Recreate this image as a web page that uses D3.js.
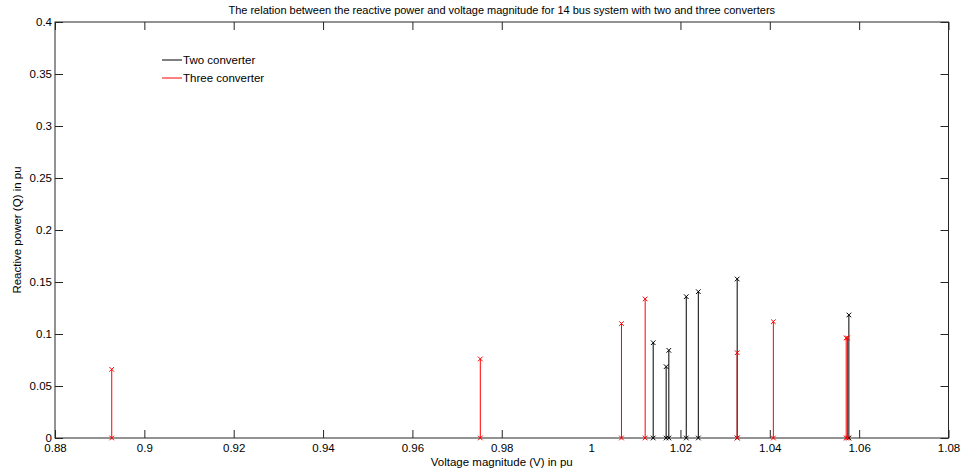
<!DOCTYPE html>
<html>
<head>
<meta charset="utf-8">
<script src="https://cdn.jsdelivr.net/npm/d3@7"></script>
<style>
  html, body { margin: 0; padding: 0; background: #fff; }
  svg { display: block; font-family: "Liberation Sans", Arial, sans-serif; }
</style>
</head>
<body>
<svg id="chart" width="962" height="473"></svg>
<script>
// ---- data ----
const title = "The relation between the reactive power and voltage magnitude for 14 bus system with two and three converters";
const xLabel = "Voltage magnitude (V) in pu";
const yLabel = "Reactive power (Q) in pu";
const seriesNames = ["Two converter", "Three converter"];
const seriesColors = ["#000000", "#ff0000"];

// Two converter: voltage (pu) and reactive power (pu)
const twoV = [1.0139, 1.0168, 1.0174, 1.0213, 1.0240, 1.0327, 1.0577];
const twoQ = [0.0916, 0.0686, 0.0843, 0.1359, 0.1407, 0.1529, 0.1183];
// Three converter
const threeV = [0.8927, 0.9752, 1.0068, 1.0121, 1.0327, 1.0408, 1.0571, 1.0574];
const threeQ = [0.0660, 0.0760, 0.1100, 0.1337, 0.0820, 0.1118, 0.0962, 0.0962];

const xTicks = [0.88, 0.9, 0.92, 0.94, 0.96, 0.98, 1, 1.02, 1.04, 1.06, 1.08];
const xTickLabels = ["0.88", "0.9", "0.92", "0.94", "0.96", "0.98", "1", "1.02", "1.04", "1.06", "1.08"];
const yTicks = [0, 0.05, 0.1, 0.15, 0.2, 0.25, 0.3, 0.35, 0.4];
const yTickLabels = ["0", "0.05", "0.1", "0.15", "0.2", "0.25", "0.3", "0.35", "0.4"];
const xHiddenTickMark = [1]; // no tick mark drawn at 1.0 in the reference

// ---- layout ----
const L = 55, R = 948.5, T = 22, B = 438;
const svg = d3.select("#chart");
const x = d3.scaleLinear().domain([0.88, 1.08]).range([L, R]);
const y = d3.scaleLinear().domain([0, 0.4]).range([B, T]);
const axisColor = "#262626";
const tickLen = 8;

// frame
svg.append("rect").attr("x", L).attr("y", T).attr("width", R - L).attr("height", B - T)
  .attr("fill", "#fff").attr("stroke", axisColor).attr("stroke-width", 1);

// axes via d3 axis generators, ticks inward
const xAxisB = d3.axisBottom(x).tickValues(xTicks).tickSize(-tickLen).tickPadding(tickLen + 5)
  .tickFormat((d, i) => xTickLabels[i]);
const gxb = svg.append("g").attr("transform", `translate(0,${B})`).call(xAxisB);
const xAxisT = d3.axisTop(x).tickValues(xTicks).tickSize(-tickLen).tickFormat("");
const gxt = svg.append("g").attr("transform", `translate(0,${T})`).call(xAxisT);
const yAxisL = d3.axisLeft(y).tickValues(yTicks).tickSize(-tickLen).tickPadding(3)
  .tickFormat((d, i) => yTickLabels[i]);
const gyl = svg.append("g").attr("transform", `translate(${L},0)`).call(yAxisL);
const yAxisR = d3.axisRight(y).tickValues(yTicks).tickSize(-tickLen).tickFormat("");
const gyr = svg.append("g").attr("transform", `translate(${R},0)`).call(yAxisR);

[gxb, gxt, gyl, gyr].forEach(g => {
  g.select(".domain").remove();
  g.selectAll(".tick line").attr("stroke", axisColor);
  g.selectAll(".tick text").attr("fill", "#000").style("font-size", "11.5px")
    .style("font-family", "'Liberation Sans', Arial, sans-serif");
});
[gxb, gxt].forEach(g => g.selectAll(".tick").filter(d => xHiddenTickMark.includes(d))
  .select("line").attr("stroke-opacity", 0));
gxb.selectAll(".tick text").attr("dy", "0.35em").attr("y", 10);
gyl.selectAll(".tick text").attr("x", -3);

// stems
function drawStems(vs, qs, color) {
  const g = svg.append("g");
  const data = vs.map((v, i) => ({ v, q: qs[i] }));
  g.selectAll("line.stem").data(data).enter().append("line")
    .attr("x1", d => x(d.v)).attr("x2", d => x(d.v))
    .attr("y1", y(0)).attr("y2", d => y(d.q))
    .attr("stroke", color).attr("stroke-width", 1);
  const s = 2.3;
  const pts = [];
  data.forEach(d => { pts.push({ v: d.v, q: 0 }); pts.push({ v: d.v, q: d.q }); });
  g.selectAll("path.mk").data(pts).enter().append("path")
    .attr("d", d => {
      const cx = x(d.v), cy = y(d.q);
      return `M${cx - s},${cy - s}L${cx + s},${cy + s}M${cx - s},${cy + s}L${cx + s},${cy - s}`;
    })
    .attr("stroke", color).attr("stroke-width", 1).attr("fill", "none");
}
drawStems(twoV, twoQ, seriesColors[0]);
drawStems(threeV, threeQ, seriesColors[1]);

// title and axis labels
svg.append("text").attr("x", (L + R) / 2).attr("y", 14).attr("text-anchor", "middle")
  .style("font-size", "11px").attr("fill", "#000").text(title);
svg.append("text").attr("x", (L + R) / 2).attr("y", 466).attr("text-anchor", "middle")
  .style("font-size", "11.5px").attr("fill", "#000").text(xLabel);
svg.append("text").attr("transform", `translate(21,${(T + B) / 2}) rotate(-90)`)
  .attr("text-anchor", "middle").style("font-size", "11.5px").attr("fill", "#000").text(yLabel);

// legend
const leg = svg.append("g");
seriesNames.forEach((name, i) => {
  const ly = 60 + i * 18;
  leg.append("line").attr("x1", 162).attr("x2", 182).attr("y1", ly).attr("y2", ly)
    .attr("stroke", seriesColors[i]).attr("stroke-width", 1);
  leg.append("text").attr("x", 183).attr("y", ly + 4).style("font-size", "11.5px")
    .attr("fill", "#000").text(name);
});
</script>
</body>
</html>
